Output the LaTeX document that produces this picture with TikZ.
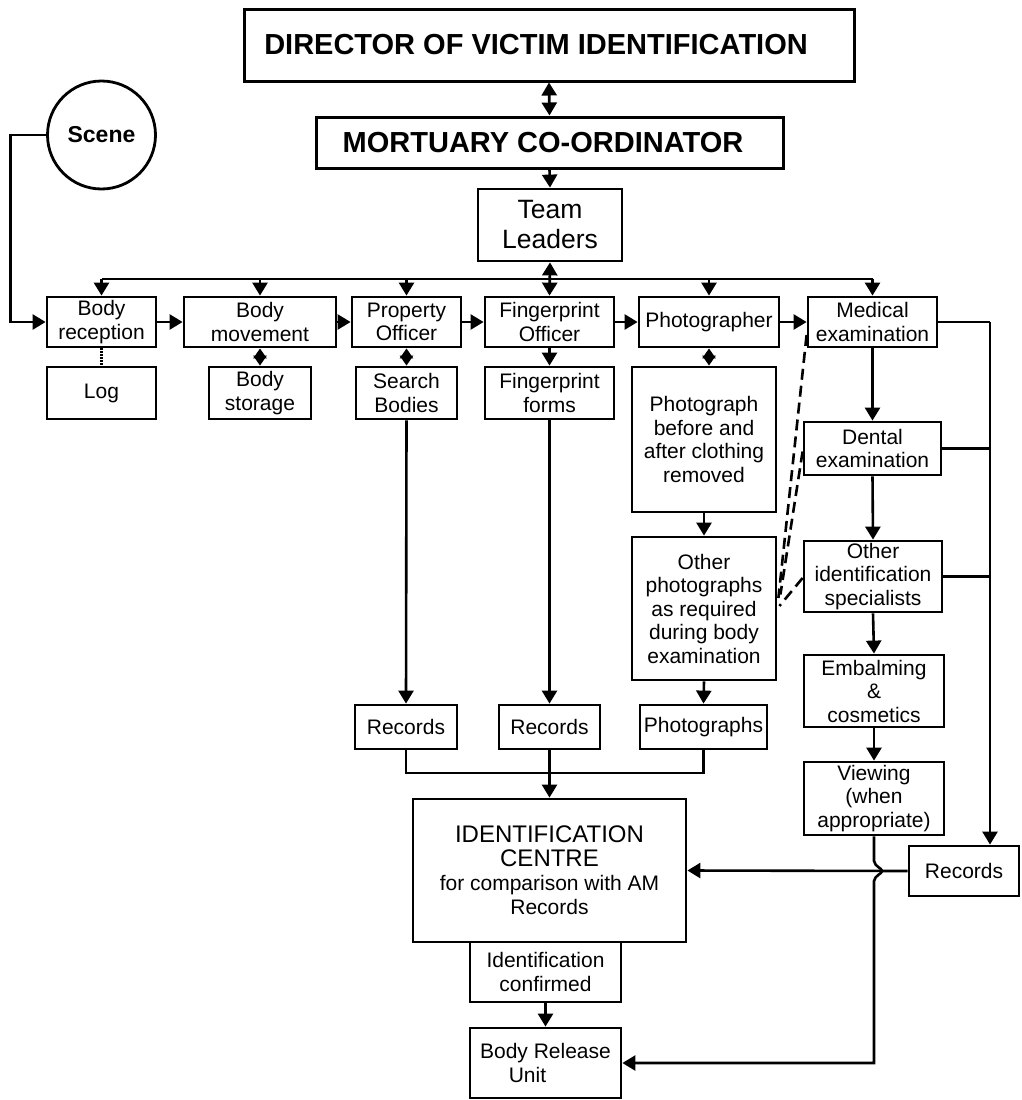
\documentclass[tikz,border=0pt]{standalone}
\usepackage{fontspec}
\setmainfont{Liberation Sans}
\usepackage{tikz}
\usetikzlibrary{arrows.meta}

\tikzset{
  box/.style={draw, line width=2.8pt, inner sep=0pt, align=center, font=\fontsize{21}{23.5}\selectfont},
  arr/.style={-{Triangle[length=13pt,width=15pt]}, line width=2.6pt},
  dbl/.style={{Triangle[length=13pt,width=15pt]}-{Triangle[length=13pt,width=15pt]}, line width=2.6pt},
  sdbl/.style={{Triangle[length=10pt,width=13pt]}-{Triangle[length=10pt,width=13pt]}, line width=2.6pt},
  lnk/.style={line width=2.6pt},
  dsh/.style={line width=2.6pt, dash pattern=on 11pt off 6pt},
}

\begin{document}
\begin{tikzpicture}[x=1pt,y=-1pt]
  \useasboundingbox (0,0) rectangle (1021,1100);
  % top of the chain
  \node[box, line width=3pt, minimum width=610, minimum height=72, font=\fontsize{29}{32}\selectfont\bfseries]
    at (549,45) (DIR) {DIRECTOR OF VICTIM IDENTIFICATION\hspace{26pt}};
  \node[box, line width=3pt, minimum width=467, minimum height=51, font=\fontsize{29}{32}\selectfont\bfseries]
    at (549.5,142.5) (MOR) {MORTUARY CO-ORDINATOR\hspace{13pt}};
  \node[box, minimum width=144, minimum height=72, font=\fontsize{26.5}{30}\selectfont]
    at (550,225) (TL) {Team\\Leaders};
  \node[draw, circle, line width=2.8pt, minimum size=108, inner sep=0pt, font=\fontsize{23}{25}\selectfont\bfseries]
    at (101.5,135) (SC) {Scene};
  \draw[dbl] (DIR.south) -- (MOR.north);
  \draw[arr] (MOR.south) -- (TL.north);

  % first row
  \node[box, minimum width=109, minimum height=50] at (101.5,322) (BR) {Body\\reception};
  \node[box, minimum width=152, minimum height=50] at (260,322) (BM) {Body\\movement};
  \node[box, minimum width=109, minimum height=50] at (406.5,322) (PO) {Property\\Officer};
  \node[box, minimum width=129, minimum height=50] at (549.5,322) (FO) {Fingerprint\\Officer};
  \node[box, minimum width=140, minimum height=50] at (709,322) (PH) {Photographer};
  \node[box, minimum width=129, minimum height=50] at (872.5,322) (ME) {Medical\\examination};

  \coordinate (BUS) at (550,279);
  \draw[lnk] (BR.north |- BUS) -- (ME.north |- BUS);
  \foreach \n in {BR,BM,PO,PH,ME}
    \draw[arr] (\n.north |- BUS) -- (\n.north);
  \draw[dbl] (TL.south) -- (FO.north);
  \draw[arr] (SC.west) -- ++(-35.5,0) |- (BR.west);
  \draw[arr] (BR.east) -- (BM.west);
  \draw[arr] (BM.east) -- (PO.west);
  \draw[arr] (PO.east) -- (FO.west);
  \draw[arr] (FO.east) -- (PH.west);
  \draw[arr] (PH.east) -- (ME.west);

  % second row
  \node[box, minimum width=109, minimum height=52] at (101.5,393) (LOG) {Log};
  \node[box, minimum width=102, minimum height=52] at (260,393) (BS) {Body\\storage};
  \node[box, minimum width=101, minimum height=52] at (406.5,393) (SB) {Search\\Bodies};
  \node[box, minimum width=129, minimum height=52] at (549.5,393) (FF) {Fingerprint\\forms};
  \node[box, minimum width=144, minimum height=145] at (704,439.5) (PB) {Photograph\\before and\\after clothing\\removed};
  \node[box, minimum width=144, minimum height=143] at (704,608.5) (OP) {Other\\photographs\\as required\\during body\\examination};
  \draw[lnk, dash pattern=on 1.5pt off 1.5pt] (BR.south) -- (LOG.north);
  \draw[sdbl] (BM.south) -- (BS.north);
  \draw[sdbl] (PO.south) -- (SB.north);
  \draw[sdbl] (PH.south) -- (PH.south |- PB.north);
  \draw[arr] (FO.south) -- (FF.north);
  \draw[arr] (PB.south) -- (OP.north);

  % medical column
  \node[box, minimum width=137, minimum height=53] at (872.5,448.5) (DE) {Dental\\examination};
  \node[box, minimum width=138, minimum height=71] at (873,576.5) (OI) {Other\\identification\\specialists};
  \node[box, minimum width=140, minimum height=72] at (874,691) (EM) {Embalming\\\&\\cosmetics};
  \node[box, minimum width=140, minimum height=73] at (874,798.5) (VW) {Viewing\\(when\\appropriate)};
  \node[box, minimum width=110, minimum height=50] at (964,871) (RR) {Records};
  \draw[arr] (ME.south) -- (DE.north);
  \draw[arr] (DE.south) -- (OI.north);
  \draw[arr] (OI.south) -- (EM.north);
  \draw[arr] (EM.south) -- (VW.north);
  \coordinate (RB) at (990,322);
  \draw[lnk] (ME.east) -- (ME.east -| RB);
  \draw[arr] (ME.east -| RB) -- (RB |- RR.north);
  \draw[lnk] (DE.east) -- (DE.east -| RB);
  \draw[lnk] (OI.east) -- (OI.east -| RB);
  \draw[dsh] ([yshift=-13pt]ME.west) -- ([shift={(1pt,10.5pt)}]OP.east);
  \draw[dsh] ([yshift=-3pt]DE.west) -- ([shift={(3pt,14pt)}]OP.east);
  \draw[dsh] ([yshift=-1.5pt]OI.west) -- ([shift={(2pt,2.5pt)}]OP.east);

  % records and identification
  \node[box, minimum width=102, minimum height=44] at (406,727) (R1) {Records};
  \node[box, minimum width=101, minimum height=44] at (549.5,727) (R2) {Records};
  \node[box, minimum width=127, minimum height=44] at (703.5,727) (PG) {Photographs};
  \node[box, minimum width=273, minimum height=143, font=\fontsize{21}{24}\selectfont] at (549.5,870.5) (IC)
    {\fontsize{24}{27}\selectfont IDENTIFICATION\\\fontsize{24}{27}\selectfont CENTRE\\for comparison with AM\\Records};
  \node[box, minimum width=151, minimum height=60] at (545.5,972) (ICF) {Identification\\confirmed};
  \node[box, minimum width=151, minimum height=70] at (545.5,1063) (BRU) {Body Release\\\hspace*{-36pt}Unit};
  \draw[arr] (SB.south) -- (R1.north);
  \draw[arr] (FF.south) -- (R2.north);
  \draw[arr] (OP.south) -- (PG.north);
  \coordinate (JN) at (549,773);
  \draw[lnk] (R1.south) -- (R1.south |- JN) -- (PG.south |- JN) -- (PG.south);
  \draw[arr] (R2.south) -- (IC.north);
  \draw[arr] (RR.west) -- (IC.east);
  \draw[arr] (ICF.south) -- (BRU.north);
  \coordinate (JP) at (VW.south |- RR.west);
  \draw[arr] (VW.south) -- ([yshift=10pt]JP)
    .. controls ([shift={(1pt,4pt)}]JP) and ([shift={(8pt,3pt)}]JP) .. ([xshift=8pt]JP)
    .. controls ([shift={(8pt,-3pt)}]JP) and ([shift={(1pt,-4pt)}]JP) .. ([yshift=-10pt]JP)
    |- (BRU.east);
\end{tikzpicture}
\end{document}
